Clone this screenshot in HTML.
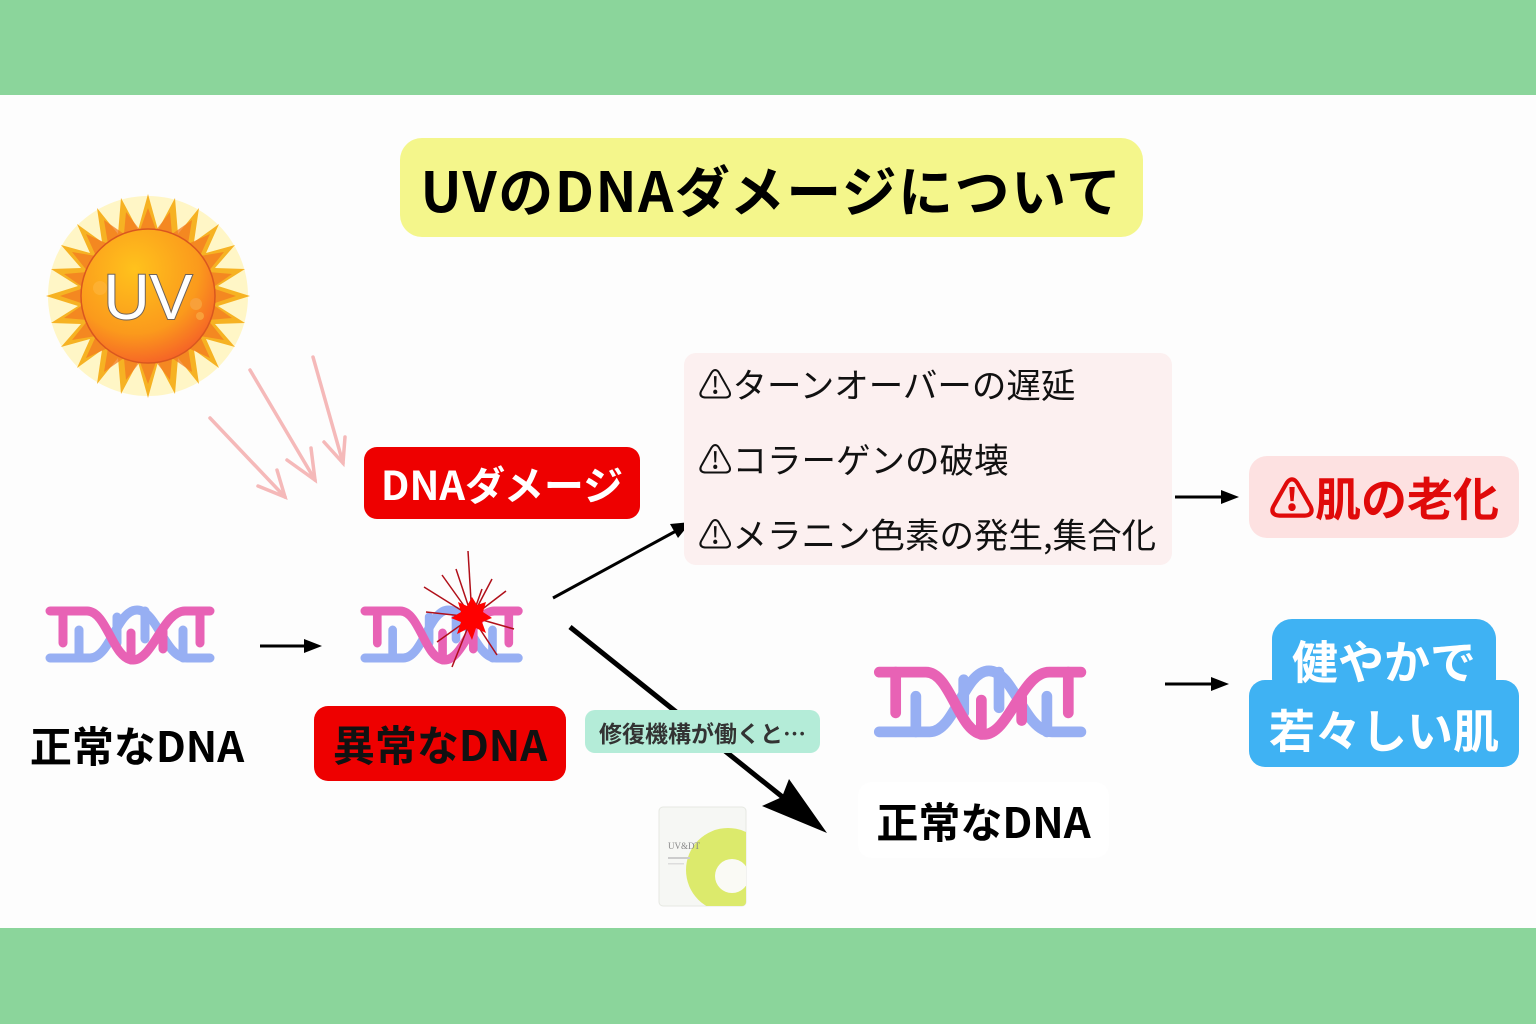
<!DOCTYPE html>
<html><head><meta charset="utf-8">
<style>
*{margin:0;padding:0;box-sizing:border-box}
body{width:1536px;height:1024px;overflow:hidden;background:#fdfdfd;font-family:"Liberation Sans","Noto Sans CJK JP",sans-serif;position:relative}
.abs{position:absolute}
.box{position:absolute;display:flex;align-items:center;justify-content:center;white-space:nowrap}
.jp{font-family:"Noto Sans CJK JP","Liberation Sans",sans-serif}
</style></head><body>
<div class="abs" style="left:0;top:0;width:1536px;height:95px;background:#8bd59b"></div>
<div class="abs" style="left:0;top:928px;width:1536px;height:96px;background:#8bd59b"></div>

<!-- title -->
<div class="box jp" style="left:400px;top:138px;width:743px;height:99px;background:#f4f68b;border-radius:22px;font-size:55px;font-weight:700;color:#000;letter-spacing:1.5px">UVのDNAダメージについて</div>

<svg class="abs" style="left:0;top:0" width="1536" height="1024" viewBox="0 0 1536 1024">
<defs>
<radialGradient id="core" cx="0.4" cy="0.3" r="0.8">
<stop offset="0" stop-color="#ffc21c"/><stop offset="0.6" stop-color="#fb9a1c"/><stop offset="1" stop-color="#f4522a"/>
</radialGradient>
<clipPath id="pk"><rect x="659" y="807" width="87" height="99" rx="4"/></clipPath>
</defs>
<!-- sun -->
<g transform="translate(148,296)">
<circle r="100" fill="#fff6c6"/>
<polygon fill="#f6b223" points="
0,-102 10,-66 27,-98 30,-62 51,-88 46,-54 71,-72 58,-43 87,-51 67,-28 97,-27 70,-10 102,0 70,10 97,27 67,28 87,51 58,43 71,72 46,54 51,88 30,62 27,98 10,66 0,102 -10,66 -27,98 -30,62 -51,88 -46,54 -71,72 -58,43 -87,51 -67,28 -97,27 -70,10 -102,0 -70,-10 -97,-27 -67,-28 -87,-51 -58,-43 -71,-72 -46,-54 -51,-88 -30,-62 -27,-98 -10,-66"/>
<polygon fill="#f37a22" opacity="0.75" points="
0,-88 8,-66 22,-84 24,-62 44,-76 40,-52 62,-62 52,-40 76,-44 60,-24 84,-22 64,-8 88,0 64,8 84,22 60,24 76,44 52,40 62,62 40,52 44,76 24,62 22,84 8,66 0,88 -8,66 -22,84 -24,62 -44,76 -40,52 -62,62 -52,40 -76,44 -60,24 -84,22 -64,8 -88,0 -64,-8 -84,-22 -60,-24 -76,-44 -52,-40 -62,-62 -40,-52 -44,-76 -24,-62 -22,-84 -8,-66"/>
<circle r="67" fill="url(#core)" stroke="#d9571f" stroke-width="1.5"/>
<circle cx="48" cy="8" r="6" fill="#f8a03a"/><circle cx="52" cy="20" r="4" fill="#f8a03a"/><circle cx="-48" cy="-8" r="7" fill="#fdb43a" opacity="0.7"/>
<text x="0" y="23" text-anchor="middle" font-family="Liberation Sans, sans-serif" font-size="64" fill="#fff" stroke="#6e625a" stroke-width="2" paint-order="stroke">UV</text>
</g>
<!-- pink uv arrows -->
<g stroke="#f5b9b9" stroke-width="3.5" fill="none" stroke-linecap="round">
<line x1="210" y1="418" x2="285" y2="497"/><polyline points="258,486 285,497 277,470"/>
<line x1="250" y1="370" x2="315" y2="480"/><polyline points="287,460 315,480 311,448"/>
<line x1="313" y1="357" x2="343" y2="463"/><polyline points="324,442 343,463 345,437"/>
</g>

<!-- DNA left -->
<g transform="translate(45,603)" stroke-linecap="round" fill="none" stroke-width="9">
<path d="M5,55 H45 C65,55 72,7 92,7 C112,7 120,55 142,55 H165" stroke="#97aff3"/>
<path d="M34,55 V27 M72,14 V40 M100,8 V36 M138,55 V27" stroke="#97aff3"/>
<path d="M5,8 H42 C62,8 68,57 88,57 C108,57 118,8 140,8 H165" stroke="#e862b5"/>
<path d="M18,8 V40 M86,57 V30 M118,28 V46 M155,8 V40" stroke="#e862b5"/>
</g>
<!-- DNA middle -->
<g transform="translate(360,603) scale(0.96,1)" stroke-linecap="round" fill="none" stroke-width="9">
<path d="M5,55 H45 C65,55 72,7 92,7 C112,7 120,55 142,55 H165" stroke="#97aff3"/>
<path d="M34,55 V27 M72,14 V40 M100,8 V36 M138,55 V27" stroke="#97aff3"/>
<path d="M5,8 H42 C62,8 68,57 88,57 C108,57 118,8 140,8 H165" stroke="#e862b5"/>
<path d="M18,8 V40 M86,57 V30 M118,28 V46 M155,8 V40" stroke="#e862b5"/>
</g>
<!-- splat -->
<g transform="translate(472,617)" stroke="#b0101a" stroke-width="1.5" fill="none">
<line x1="0" y1="0" x2="-4" y2="-66"/><line x1="0" y1="0" x2="-30" y2="-42"/><line x1="0" y1="0" x2="-48" y2="-30"/>
<line x1="0" y1="0" x2="-46" y2="-5"/><line x1="0" y1="0" x2="-35" y2="25"/><line x1="0" y1="0" x2="-20" y2="50"/>
<line x1="0" y1="0" x2="20" y2="-38"/><line x1="0" y1="0" x2="34" y2="-26"/><line x1="0" y1="0" x2="42" y2="12"/>
<line x1="0" y1="0" x2="25" y2="38"/><line x1="0" y1="0" x2="10" y2="-28"/><line x1="0" y1="0" x2="-16" y2="-48"/>
</g>
<polygon fill="#ff0000" points="472,597 477,605 486,602 483,612 492,618 482,622 486,633 476,628 472,640 467,629 457,634 461,622 451,618 461,612 458,602 467,606"/>

<!-- DNA right -->
<g transform="translate(873,662) scale(1.26,1.27)" stroke-linecap="round" fill="none" stroke-width="8.5">
<path d="M5,55 H45 C65,55 72,7 92,7 C112,7 120,55 142,55 H165" stroke="#97aff3"/>
<path d="M34,55 V27 M72,14 V40 M100,8 V36 M138,55 V27" stroke="#97aff3"/>
<path d="M5,8 H42 C62,8 68,57 88,57 C108,57 118,8 140,8 H165" stroke="#e862b5"/>
<path d="M18,8 V40 M86,57 V30 M118,28 V46 M155,8 V40" stroke="#e862b5"/>
</g>

<!-- arrows black -->
<g stroke="#000" stroke-width="3" fill="#000">
<line x1="260" y1="646" x2="308" y2="646"/><polygon stroke="none" points="322,646 304,639 304,653"/>
<line x1="553" y1="598" x2="676" y2="531"/><polygon stroke="none" points="691,522 670,524 678,538"/>
<line x1="1175" y1="497" x2="1224" y2="497"/><polygon stroke="none" points="1239,497 1221,490 1221,504"/>
<line x1="1165" y1="684" x2="1214" y2="684"/><polygon stroke="none" points="1229,684 1211,677 1211,691"/>
<line x1="570" y1="627" x2="790" y2="803" stroke-width="5"/>
<polygon stroke="none" points="827,833 762,806 782,797 789,779"/>
</g>

<!-- product -->
<g>
<rect x="659" y="807" width="87" height="99" rx="4" fill="#f6f7f4" stroke="#e6e8e2"/>
<g clip-path="url(#pk)">
<circle cx="728" cy="870" r="42" fill="#dcea6c"/>
<circle cx="732" cy="876" r="17" fill="#fafaf5"/>
</g>
<text x="668" y="849" font-family="Liberation Serif, serif" font-size="9" fill="#888">UV&amp;DT</text>
<rect x="668" y="857" width="22" height="2" fill="#ccc"/>
<rect x="668" y="863" width="16" height="1.5" fill="#ddd"/>
</g>
</svg>

<!-- DNA damage label -->
<div class="box jp" style="left:364px;top:447px;width:276px;height:72px;background:#ee0000;border-radius:13px;color:#fff;font-size:40px;font-weight:700">DNAダメージ</div>

<!-- left normal -->
<div class="box jp" style="left:22px;top:716px;width:230px;height:56px;font-size:42px;font-weight:700;color:#000">正常なDNA</div>
<!-- abnormal -->
<div class="box jp" style="left:314px;top:706px;width:252px;height:75px;background:#ee0000;border-radius:14px;font-size:42px;font-weight:700;color:#111">異常なDNA</div>

<!-- repair label -->
<div class="box jp" style="left:585px;top:710px;width:235px;height:43px;background:#b4ecd8;border-radius:10px;font-size:23px;font-weight:700;color:#333">修復機構が働くと…</div>

<!-- pink list -->
<div class="abs" style="left:684px;top:353px;width:488px;height:212px;background:#fcf0f0;border-radius:12px"></div>
<div class="abs jp" style="left:698px;top:360px;font-size:34.5px;line-height:46px;color:#111;white-space:nowrap">⚠ターンオーバーの遅延</div>
<div class="abs jp" style="left:698px;top:435px;font-size:34.5px;line-height:46px;color:#111;white-space:nowrap">⚠コラーゲンの破壊</div>
<div class="abs jp" style="left:698px;top:510px;font-size:34.5px;line-height:46px;color:#111;white-space:nowrap">⚠メラニン色素の発生,集合化</div>

<!-- aging -->
<div class="box jp" style="left:1249px;top:456px;width:270px;height:82px;background:#fde1e1;border-radius:18px;font-size:46px;font-weight:700;color:#e00a0a">⚠肌の老化</div>

<!-- blue box -->
<div class="abs" style="left:1272px;top:619px;width:224px;height:80px;background:#3fb2f3;border-radius:20px"></div>
<div class="abs" style="left:1249px;top:680px;width:270px;height:87px;background:#3fb2f3;border-radius:16px"></div>
<div class="box jp" style="left:1249px;top:632px;width:270px;height:56px;font-size:46px;font-weight:700;color:#fff">健やかで</div>
<div class="box jp" style="left:1249px;top:701px;width:270px;height:56px;font-size:46px;font-weight:700;color:#fff">若々しい肌</div>

<!-- right normal -->
<div class="box jp" style="left:858px;top:782px;width:251px;height:76px;background:#fff;border-radius:14px;font-size:42px;font-weight:700;color:#000">正常なDNA</div>
</body></html>
